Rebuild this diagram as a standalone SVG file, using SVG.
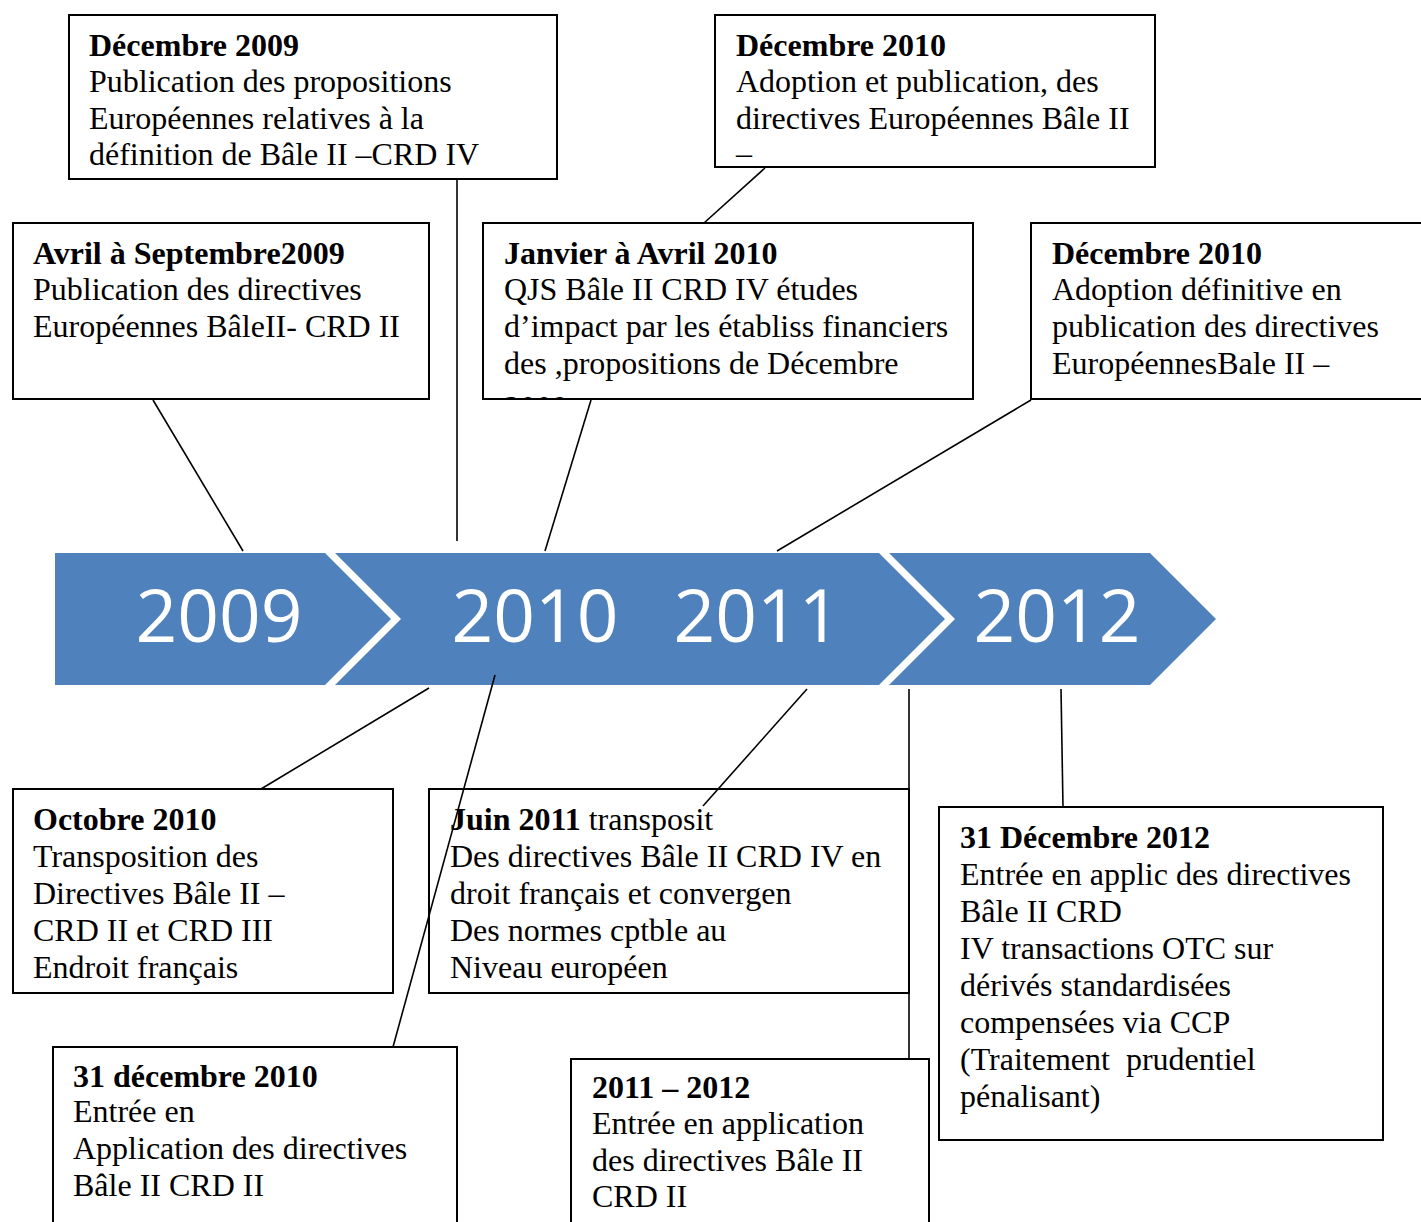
<svg xmlns="http://www.w3.org/2000/svg" width="1421" height="1222" viewBox="0 0 1421 1222">
<style>
.box{fill:#fff;stroke:#000;stroke-width:2}
.t{font-family:"Liberation Serif","Times New Roman",serif;font-size:32px;fill:#000}
.b{font-weight:bold}
.yr{font-family:"Open Sans","Liberation Sans",sans-serif;font-size:73px;fill:#fff;text-anchor:middle}
.seg{fill:#4F81BD}
.c{stroke:#000;stroke-width:1.6;fill:none}
</style>
<defs>
<clipPath id="clipJ"><rect x="484" y="224" width="488" height="174"/></clipPath>
<clipPath id="clipD"><rect x="716" y="16" width="438" height="150"/></clipPath>
</defs>
<rect width="1421" height="1222" fill="#fff"/>
<g id="timeline">
<polygon class="seg" points="55,553 325,553 391,619 325,685 55,685"/>
<polygon class="seg" points="335,553 879,553 945,619 879,685 335,685 401,619"/>
<polygon class="seg" points="889,553 1150,553 1216,619 1150,685 889,685 955,619"/>
<text class="yr" x="219" y="642">2009</text>
<text class="yr" x="535" y="642">2010</text>
<text class="yr" x="757" y="642">2011</text>
<text class="yr" x="1057" y="642">2012</text>
</g>
<g id="n-dec2009">
<rect class="box" x="69" y="15" width="488" height="164"/>
<text class="t" x="89"><tspan class="b" y="56">Décembre 2009</tspan><tspan x="89" y="92">Publication des propositions</tspan><tspan x="89" y="129">Européennes relatives à la</tspan><tspan x="89" y="165">définition de Bâle II –CRD IV</tspan></text>
</g>
<g id="n-avr2009">
<rect class="box" x="13" y="223" width="416" height="176"/>
<text class="t" x="33"><tspan class="b" y="264">Avril à Septembre2009</tspan><tspan x="33" y="300">Publication des directives</tspan><tspan x="33" y="337">Européennes BâleII- CRD II</tspan></text>
</g>
<g id="n-dec2010a">
<rect class="box" x="715" y="15" width="440" height="152"/>
<text class="t" x="736" clip-path="url(#clipD)"><tspan class="b" y="56">Décembre 2010</tspan><tspan x="736" y="92">Adoption et publication, des</tspan><tspan x="736" y="129">directives Européennes Bâle II</tspan><tspan x="736" y="164">–</tspan></text>
</g>
<g id="n-janavr2010">
<rect class="box" x="483" y="223" width="490" height="176"/>
<text class="t" x="504" clip-path="url(#clipJ)"><tspan class="b" y="264">Janvier à Avril 2010</tspan><tspan x="504" y="300">QJS Bâle II CRD IV études</tspan><tspan x="504" y="337">d’impact par les établiss financiers</tspan><tspan x="504" y="374">des ,propositions de Décembre</tspan><tspan x="504" y="418">2009</tspan></text>
</g>
<g id="n-dec2010b">
<rect class="box" x="1031" y="223" width="410" height="176"/>
<text class="t" x="1052"><tspan class="b" y="264">Décembre 2010</tspan><tspan x="1052" y="300">Adoption définitive en</tspan><tspan x="1052" y="337">publication des directives</tspan><tspan x="1052" y="374">EuropéennesBale II –</tspan></text>
</g>
<g id="n-oct2010">
<rect class="box" x="13" y="789" width="380" height="204"/>
<text class="t" x="33"><tspan class="b" y="830">Octobre 2010</tspan><tspan x="33" y="867">Transposition des</tspan><tspan x="33" y="904">Directives Bâle II –</tspan><tspan x="33" y="941">CRD II et CRD III</tspan><tspan x="33" y="978">Endroit français</tspan></text>
</g>
<g id="n-juin2011">
<rect class="box" x="429" y="789" width="480" height="204"/>
<text class="t" x="450"><tspan y="830"><tspan class="b">Juin 2011</tspan> transposit</tspan><tspan x="450" y="867">Des directives Bâle II CRD IV en</tspan><tspan x="450" y="904">droit français et convergen</tspan><tspan x="450" y="941">Des normes cptble au</tspan><tspan x="450" y="978">Niveau européen</tspan></text>
</g>
<g id="n-dec2012">
<rect class="box" x="939" y="807" width="444" height="333"/>
<text class="t" x="960"><tspan class="b" y="848">31 Décembre 2012</tspan><tspan x="960" y="885">Entrée en applic des directives</tspan><tspan x="960" y="922">Bâle II CRD</tspan><tspan x="960" y="959">IV transactions OTC sur</tspan><tspan x="960" y="996">dérivés standardisées</tspan><tspan x="960" y="1033">compensées via CCP</tspan><tspan x="960" y="1070" xml:space="preserve">(Traitement  prudentiel</tspan><tspan x="960" y="1107">pénalisant)</tspan></text>
</g>
<g id="n-31dec2010">
<rect class="box" x="53" y="1047" width="404" height="190"/>
<text class="t" x="73"><tspan class="b" y="1087">31 décembre 2010</tspan><tspan x="73" y="1122">Entrée en</tspan><tspan x="73" y="1159">Application des directives</tspan><tspan x="73" y="1196">Bâle II CRD II</tspan></text>
</g>
<g id="n-2011-2012">
<rect class="box" x="571" y="1059" width="358" height="180"/>
<text class="t" x="592"><tspan class="b" y="1098">2011 – 2012</tspan><tspan x="592" y="1134">Entrée en application</tspan><tspan x="592" y="1171">des directives Bâle II</tspan><tspan x="592" y="1207">CRD II</tspan></text>
</g>
<g id="connectors">
<line class="c" x1="153" y1="400" x2="243" y2="551"/>
<line class="c" x1="457" y1="180" x2="457" y2="541"/>
<line class="c" x1="591" y1="400" x2="545" y2="551"/>
<line class="c" x1="765" y1="168" x2="704" y2="223"/>
<line class="c" x1="1031" y1="400" x2="777" y2="551"/>
<line class="c" x1="429" y1="688" x2="261" y2="789"/>
<line class="c" x1="495" y1="675" x2="393" y2="1047"/>
<line class="c" x1="807" y1="689" x2="703" y2="806"/>
<line class="c" x1="909" y1="689" x2="909" y2="1059"/>
<line class="c" x1="1061" y1="689" x2="1063" y2="807"/>
</g>
</svg>
